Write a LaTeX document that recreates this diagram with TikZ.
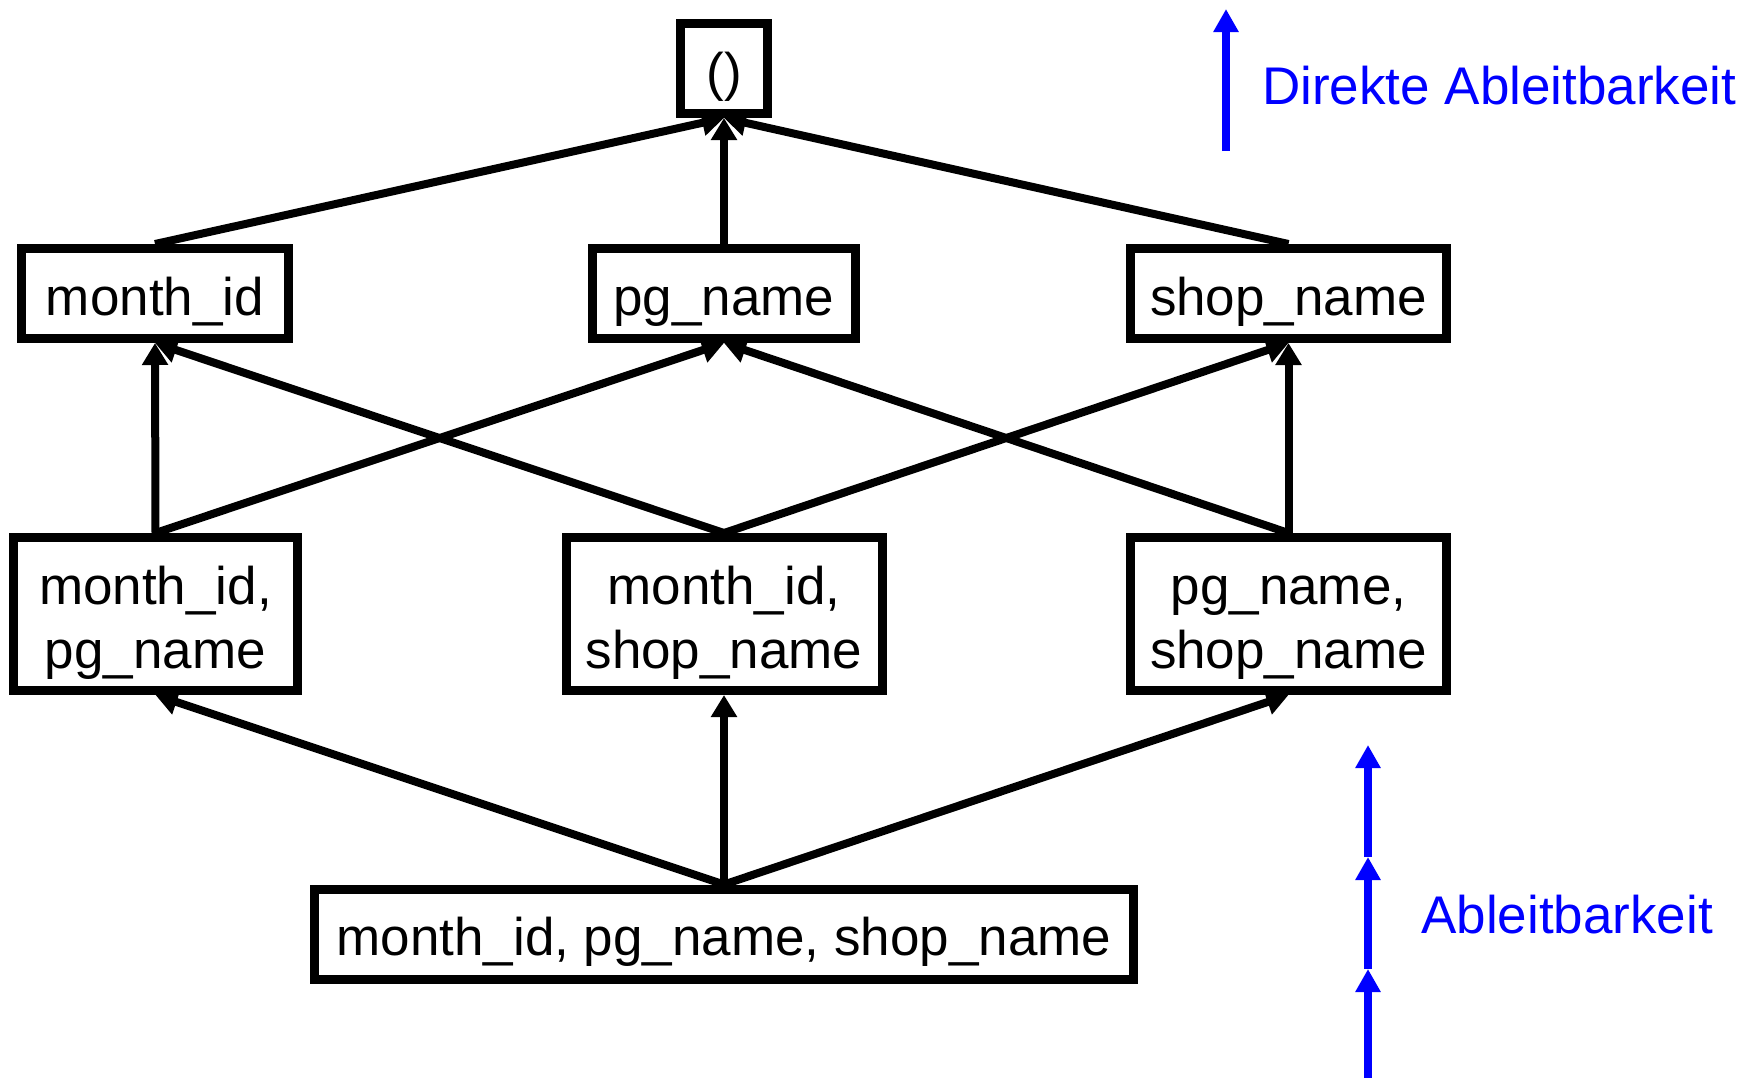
\documentclass[tikz,border=0pt]{standalone}
\usepackage{fontspec}
\setmainfont{Liberation Sans}
\usetikzlibrary{arrows.meta}
\begin{document}
\begin{tikzpicture}[x=1pt,y=-1pt,
  lattice/.style={draw=black, line width=9pt, fill=white, inner sep=0pt,
    align=center, font=\fontsize{53}{64}\selectfont},
  oneline/.style={lattice, minimum height=90pt, text height=46pt, text depth=3pt},
  twoline/.style={lattice, minimum height=153pt, text height=114pt, text depth=6pt},
  derive/.style={draw=black, line width=8pt,
    -{Triangle[width=25pt,length=22pt]}},
  hint/.style={draw=blue, line width=7.5pt,
    -{Triangle[width=24pt,length=23pt]}},
  hinttext/.style={text=blue, inner sep=0pt, anchor=base west,
    font=\fontsize{53}{64}\selectfont}]
  \useasboundingbox (0,0) rectangle (1755,1077);

  % lattice of groupings
  \node[oneline, minimum width=87pt] (top) at (724,68.5) {()};

  \node[oneline, minimum width=267pt] (m) at (155,293.5) {month\_id};
  \node[oneline, minimum width=263pt] (p) at (724,293.5) {pg\_name};
  \node[oneline, minimum width=316pt] (s) at (1288.5,293.5) {shop\_name};

  \node[twoline, minimum width=284pt] (mp) at (155.5,614) {month\_id,\\pg\_name};
  \node[twoline, minimum width=316pt] (ms) at (724,614) {month\_id,\\shop\_name};
  \node[twoline, minimum width=316pt] (ps) at (1288.5,614) {pg\_name,\\shop\_name};

  \node[oneline, minimum width=819pt] (mps) at (724,934) {month\_id, pg\_name, shop\_name};

  % derivation edges
  \draw[derive] (m.north) -- (top.south);
  \draw[derive] (p.north) -- (top.south);
  \draw[derive] (s.north) -- (top.south);

  \draw[derive] (mp.north) -- (m.south);
  \draw[derive] (mp.north) -- (p.south);
  \draw[derive] (ms.north) -- (m.south);
  \draw[derive] (ms.north) -- (s.south);
  \draw[derive] (ps.north) -- (p.south);
  \draw[derive] (ps.north) -- (s.south);

  \draw[derive] (mps.north) -- (mp.south);
  \draw[derive] (mps.north) -- (ms.south);
  \draw[derive] (mps.north) -- (ps.south);

  % legend: direct derivability
  \coordinate (d0) at (1226,151);
  \coordinate (d1) at (1226,9);
  \draw[hint] (d0) -- (d1);
  \node[hinttext] (dlabel) at (1262,104) {Direkte Ableitbarkeit};

  % legend: derivability (chain of steps)
  \coordinate (a0) at (1368,1082);
  \coordinate (a1) at (1368,969);
  \coordinate (a2) at (1368,857);
  \coordinate (a3) at (1368,745);
  \draw[hint] (a0) -- (a1);
  \draw[hint] (a1) -- (a2);
  \draw[hint] (a2) -- (a3);
  \node[hinttext] (alabel) at (1421,933) {Ableitbarkeit};
\end{tikzpicture}
\end{document}
